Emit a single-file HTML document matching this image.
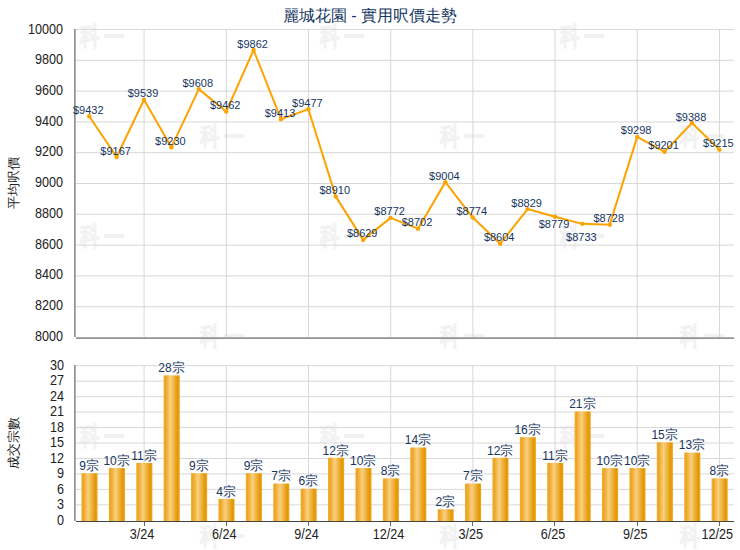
<!DOCTYPE html><html><head><meta charset="utf-8"><style>html,body{margin:0;padding:0;background:#fff;}svg{display:block;}text{font-family:"Liberation Sans",sans-serif;}</style></head><body>
<svg width="740" height="550" viewBox="0 0 740 550">
<defs><linearGradient id="bg" x1="0" x2="1" y1="0" y2="0"><stop offset="0" stop-color="#f4ad2a"/><stop offset="0.12" stop-color="#eea424"/><stop offset="0.42" stop-color="#f9d07f"/><stop offset="0.88" stop-color="#e39600"/><stop offset="1" stop-color="#f2aa28"/></linearGradient></defs>
<rect width="740" height="550" fill="#fff"/>
<text transform="translate(80,44.6) scale(0.76,1)" font-size="26" font-weight="900" fill="#f2f2f2" stroke="#f2f2f2" stroke-width="0.3">科</text>
<text transform="translate(103.6,46.1) scale(0.78,1)" font-size="26" font-weight="900" fill="#f2f2f2" stroke="#f2f2f2" stroke-width="1">一</text>
<text transform="translate(320,44.6) scale(0.76,1)" font-size="26" font-weight="900" fill="#f2f2f2" stroke="#f2f2f2" stroke-width="0.3">科</text>
<text transform="translate(343.6,46.1) scale(0.78,1)" font-size="26" font-weight="900" fill="#f2f2f2" stroke="#f2f2f2" stroke-width="1">一</text>
<text transform="translate(560,44.6) scale(0.76,1)" font-size="26" font-weight="900" fill="#f2f2f2" stroke="#f2f2f2" stroke-width="0.3">科</text>
<text transform="translate(583.6,46.1) scale(0.78,1)" font-size="26" font-weight="900" fill="#f2f2f2" stroke="#f2f2f2" stroke-width="1">一</text>
<text transform="translate(200,144.6) scale(0.76,1)" font-size="26" font-weight="900" fill="#f2f2f2" stroke="#f2f2f2" stroke-width="0.3">科</text>
<text transform="translate(223.6,146.1) scale(0.78,1)" font-size="26" font-weight="900" fill="#f2f2f2" stroke="#f2f2f2" stroke-width="1">一</text>
<text transform="translate(440,144.6) scale(0.76,1)" font-size="26" font-weight="900" fill="#f2f2f2" stroke="#f2f2f2" stroke-width="0.3">科</text>
<text transform="translate(463.6,146.1) scale(0.78,1)" font-size="26" font-weight="900" fill="#f2f2f2" stroke="#f2f2f2" stroke-width="1">一</text>
<text transform="translate(680,144.6) scale(0.76,1)" font-size="26" font-weight="900" fill="#f2f2f2" stroke="#f2f2f2" stroke-width="0.3">科</text>
<text transform="translate(703.6,146.1) scale(0.78,1)" font-size="26" font-weight="900" fill="#f2f2f2" stroke="#f2f2f2" stroke-width="1">一</text>
<text transform="translate(80,244.6) scale(0.76,1)" font-size="26" font-weight="900" fill="#f2f2f2" stroke="#f2f2f2" stroke-width="0.3">科</text>
<text transform="translate(103.6,246.1) scale(0.78,1)" font-size="26" font-weight="900" fill="#f2f2f2" stroke="#f2f2f2" stroke-width="1">一</text>
<text transform="translate(320,244.6) scale(0.76,1)" font-size="26" font-weight="900" fill="#f2f2f2" stroke="#f2f2f2" stroke-width="0.3">科</text>
<text transform="translate(343.6,246.1) scale(0.78,1)" font-size="26" font-weight="900" fill="#f2f2f2" stroke="#f2f2f2" stroke-width="1">一</text>
<text transform="translate(560,244.6) scale(0.76,1)" font-size="26" font-weight="900" fill="#f2f2f2" stroke="#f2f2f2" stroke-width="0.3">科</text>
<text transform="translate(583.6,246.1) scale(0.78,1)" font-size="26" font-weight="900" fill="#f2f2f2" stroke="#f2f2f2" stroke-width="1">一</text>
<text transform="translate(200,344.6) scale(0.76,1)" font-size="26" font-weight="900" fill="#f2f2f2" stroke="#f2f2f2" stroke-width="0.3">科</text>
<text transform="translate(223.6,346.1) scale(0.78,1)" font-size="26" font-weight="900" fill="#f2f2f2" stroke="#f2f2f2" stroke-width="1">一</text>
<text transform="translate(440,344.6) scale(0.76,1)" font-size="26" font-weight="900" fill="#f2f2f2" stroke="#f2f2f2" stroke-width="0.3">科</text>
<text transform="translate(463.6,346.1) scale(0.78,1)" font-size="26" font-weight="900" fill="#f2f2f2" stroke="#f2f2f2" stroke-width="1">一</text>
<text transform="translate(680,344.6) scale(0.76,1)" font-size="26" font-weight="900" fill="#f2f2f2" stroke="#f2f2f2" stroke-width="0.3">科</text>
<text transform="translate(703.6,346.1) scale(0.78,1)" font-size="26" font-weight="900" fill="#f2f2f2" stroke="#f2f2f2" stroke-width="1">一</text>
<text transform="translate(80,444.6) scale(0.76,1)" font-size="26" font-weight="900" fill="#f2f2f2" stroke="#f2f2f2" stroke-width="0.3">科</text>
<text transform="translate(103.6,446.1) scale(0.78,1)" font-size="26" font-weight="900" fill="#f2f2f2" stroke="#f2f2f2" stroke-width="1">一</text>
<text transform="translate(320,444.6) scale(0.76,1)" font-size="26" font-weight="900" fill="#f2f2f2" stroke="#f2f2f2" stroke-width="0.3">科</text>
<text transform="translate(343.6,446.1) scale(0.78,1)" font-size="26" font-weight="900" fill="#f2f2f2" stroke="#f2f2f2" stroke-width="1">一</text>
<text transform="translate(560,444.6) scale(0.76,1)" font-size="26" font-weight="900" fill="#f2f2f2" stroke="#f2f2f2" stroke-width="0.3">科</text>
<text transform="translate(583.6,446.1) scale(0.78,1)" font-size="26" font-weight="900" fill="#f2f2f2" stroke="#f2f2f2" stroke-width="1">一</text>
<text transform="translate(200,544.6) scale(0.76,1)" font-size="26" font-weight="900" fill="#f2f2f2" stroke="#f2f2f2" stroke-width="0.3">科</text>
<text transform="translate(223.6,546.1) scale(0.78,1)" font-size="26" font-weight="900" fill="#f2f2f2" stroke="#f2f2f2" stroke-width="1">一</text>
<text transform="translate(440,544.6) scale(0.76,1)" font-size="26" font-weight="900" fill="#f2f2f2" stroke="#f2f2f2" stroke-width="0.3">科</text>
<text transform="translate(463.6,546.1) scale(0.78,1)" font-size="26" font-weight="900" fill="#f2f2f2" stroke="#f2f2f2" stroke-width="1">一</text>
<text transform="translate(680,544.6) scale(0.76,1)" font-size="26" font-weight="900" fill="#f2f2f2" stroke="#f2f2f2" stroke-width="0.3">科</text>
<text transform="translate(703.6,546.1) scale(0.78,1)" font-size="26" font-weight="900" fill="#f2f2f2" stroke="#f2f2f2" stroke-width="1">一</text>
<text x="370" y="21" font-size="16" fill="#15365f" text-anchor="middle">麗城花園 - 實用呎價走勢</text>
<rect x="76" y="29.00" width="658" height="1" fill="#d8d8d8"/>
<rect x="76" y="59.80" width="658" height="1" fill="#d8d8d8"/>
<rect x="76" y="90.60" width="658" height="1" fill="#d8d8d8"/>
<rect x="76" y="121.40" width="658" height="1" fill="#d8d8d8"/>
<rect x="76" y="152.20" width="658" height="1" fill="#d8d8d8"/>
<rect x="76" y="183.00" width="658" height="1" fill="#d8d8d8"/>
<rect x="76" y="213.80" width="658" height="1" fill="#d8d8d8"/>
<rect x="76" y="244.60" width="658" height="1" fill="#d8d8d8"/>
<rect x="76" y="275.40" width="658" height="1" fill="#d8d8d8"/>
<rect x="76" y="306.20" width="658" height="1" fill="#d8d8d8"/>
<rect x="143.60" y="29" width="1" height="308" fill="#d8d8d8"/>
<rect x="225.80" y="29" width="1" height="308" fill="#d8d8d8"/>
<rect x="307.99" y="29" width="1" height="308" fill="#d8d8d8"/>
<rect x="390.19" y="29" width="1" height="308" fill="#d8d8d8"/>
<rect x="472.38" y="29" width="1" height="308" fill="#d8d8d8"/>
<rect x="554.58" y="29" width="1" height="308" fill="#d8d8d8"/>
<rect x="636.77" y="29" width="1" height="308" fill="#d8d8d8"/>
<rect x="718.96" y="29" width="1" height="308" fill="#d8d8d8"/>
<rect x="74" y="29" width="1" height="308" fill="#939393"/><rect x="75" y="29" width="1" height="308" fill="#afafaf"/>
<rect x="76" y="337" width="658" height="1" fill="#acacac"/><rect x="76" y="338" width="658" height="1" fill="#949494"/>
<text transform="translate(63,33.60) scale(0.9,1)" font-size="14" fill="#222" text-anchor="end">10000</text>
<text transform="translate(63,64.32) scale(0.9,1)" font-size="14" fill="#222" text-anchor="end">9800</text>
<text transform="translate(63,95.04) scale(0.9,1)" font-size="14" fill="#222" text-anchor="end">9600</text>
<text transform="translate(63,125.76) scale(0.9,1)" font-size="14" fill="#222" text-anchor="end">9400</text>
<text transform="translate(63,156.48) scale(0.9,1)" font-size="14" fill="#222" text-anchor="end">9200</text>
<text transform="translate(63,187.20) scale(0.9,1)" font-size="14" fill="#222" text-anchor="end">9000</text>
<text transform="translate(63,217.92) scale(0.9,1)" font-size="14" fill="#222" text-anchor="end">8800</text>
<text transform="translate(63,248.64) scale(0.9,1)" font-size="14" fill="#222" text-anchor="end">8600</text>
<text transform="translate(63,279.36) scale(0.9,1)" font-size="14" fill="#222" text-anchor="end">8400</text>
<text transform="translate(63,310.08) scale(0.9,1)" font-size="14" fill="#222" text-anchor="end">8200</text>
<text transform="translate(63,340.80) scale(0.9,1)" font-size="14" fill="#222" text-anchor="end">8000</text>
<text transform="translate(18.3,183) rotate(-90)" font-size="13" fill="#222" text-anchor="middle">平均呎價</text>
<polyline points="89.21,116.22 116.61,157.03 144.00,99.74 171.40,147.33 198.80,89.12 226.20,111.60 253.60,50.00 281.00,119.15 308.39,109.29 335.79,196.61 363.19,239.88 390.59,217.86 417.99,228.64 445.38,182.13 472.78,217.55 500.18,243.73 527.58,209.08 554.98,216.78 582.37,223.87 609.77,224.64 637.17,136.86 664.57,151.80 691.97,123.00 719.36,149.64" fill="none" stroke="#fca300" stroke-width="2" stroke-linejoin="round"/>
<circle cx="89.21" cy="116.22" r="2.2" fill="#fca300"/>
<circle cx="116.61" cy="157.03" r="2.2" fill="#fca300"/>
<circle cx="144.00" cy="99.74" r="2.2" fill="#fca300"/>
<circle cx="171.40" cy="147.33" r="2.2" fill="#fca300"/>
<circle cx="198.80" cy="89.12" r="2.2" fill="#fca300"/>
<circle cx="226.20" cy="111.60" r="2.2" fill="#fca300"/>
<circle cx="253.60" cy="50.00" r="2.2" fill="#fca300"/>
<circle cx="281.00" cy="119.15" r="2.2" fill="#fca300"/>
<circle cx="308.39" cy="109.29" r="2.2" fill="#fca300"/>
<circle cx="335.79" cy="196.61" r="2.2" fill="#fca300"/>
<circle cx="363.19" cy="239.88" r="2.2" fill="#fca300"/>
<circle cx="390.59" cy="217.86" r="2.2" fill="#fca300"/>
<circle cx="417.99" cy="228.64" r="2.2" fill="#fca300"/>
<circle cx="445.38" cy="182.13" r="2.2" fill="#fca300"/>
<circle cx="472.78" cy="217.55" r="2.2" fill="#fca300"/>
<circle cx="500.18" cy="243.73" r="2.2" fill="#fca300"/>
<circle cx="527.58" cy="209.08" r="2.2" fill="#fca300"/>
<circle cx="554.98" cy="216.78" r="2.2" fill="#fca300"/>
<circle cx="582.37" cy="223.87" r="2.2" fill="#fca300"/>
<circle cx="609.77" cy="224.64" r="2.2" fill="#fca300"/>
<circle cx="637.17" cy="136.86" r="2.2" fill="#fca300"/>
<circle cx="664.57" cy="151.80" r="2.2" fill="#fca300"/>
<circle cx="691.97" cy="123.00" r="2.2" fill="#fca300"/>
<circle cx="719.36" cy="149.64" r="2.2" fill="#fca300"/>
<text x="88.21" y="113.77" font-size="11" fill="#15365f" text-anchor="middle">$9432</text>
<text x="115.61" y="154.58" font-size="11" fill="#15365f" text-anchor="middle">$9167</text>
<text x="143.00" y="97.29" font-size="11" fill="#15365f" text-anchor="middle">$9539</text>
<text x="170.40" y="144.88" font-size="11" fill="#15365f" text-anchor="middle">$9230</text>
<text x="197.80" y="86.67" font-size="11" fill="#15365f" text-anchor="middle">$9608</text>
<text x="225.20" y="109.15" font-size="11" fill="#15365f" text-anchor="middle">$9462</text>
<text x="252.60" y="47.55" font-size="11" fill="#15365f" text-anchor="middle">$9862</text>
<text x="280.00" y="116.70" font-size="11" fill="#15365f" text-anchor="middle">$9413</text>
<text x="307.39" y="106.84" font-size="11" fill="#15365f" text-anchor="middle">$9477</text>
<text x="334.79" y="194.16" font-size="11" fill="#15365f" text-anchor="middle">$8910</text>
<text x="362.19" y="237.43" font-size="11" fill="#15365f" text-anchor="middle">$8629</text>
<text x="389.59" y="215.41" font-size="11" fill="#15365f" text-anchor="middle">$8772</text>
<text x="416.99" y="226.19" font-size="11" fill="#15365f" text-anchor="middle">$8702</text>
<text x="444.38" y="179.68" font-size="11" fill="#15365f" text-anchor="middle">$9004</text>
<text x="471.78" y="215.10" font-size="11" fill="#15365f" text-anchor="middle">$8774</text>
<text x="499.18" y="241.28" font-size="11" fill="#15365f" text-anchor="middle">$8604</text>
<text x="526.58" y="206.63" font-size="11" fill="#15365f" text-anchor="middle">$8829</text>
<text x="553.98" y="228.03" font-size="11" fill="#15365f" text-anchor="middle">$8779</text>
<text x="581.37" y="241.12" font-size="11" fill="#15365f" text-anchor="middle">$8733</text>
<text x="608.77" y="222.19" font-size="11" fill="#15365f" text-anchor="middle">$8728</text>
<text x="636.17" y="134.41" font-size="11" fill="#15365f" text-anchor="middle">$9298</text>
<text x="663.57" y="149.35" font-size="11" fill="#15365f" text-anchor="middle">$9201</text>
<text x="690.97" y="120.55" font-size="11" fill="#15365f" text-anchor="middle">$9388</text>
<text x="718.36" y="147.19" font-size="11" fill="#15365f" text-anchor="middle">$9215</text>
<rect x="76" y="365.21" width="658" height="1" fill="#d8d8d8"/>
<rect x="76" y="380.67" width="658" height="1" fill="#d8d8d8"/>
<rect x="76" y="396.13" width="658" height="1" fill="#d8d8d8"/>
<rect x="76" y="411.59" width="658" height="1" fill="#d8d8d8"/>
<rect x="76" y="427.05" width="658" height="1" fill="#d8d8d8"/>
<rect x="76" y="442.51" width="658" height="1" fill="#d8d8d8"/>
<rect x="76" y="457.96" width="658" height="1" fill="#d8d8d8"/>
<rect x="76" y="473.42" width="658" height="1" fill="#d8d8d8"/>
<rect x="76" y="488.88" width="658" height="1" fill="#d8d8d8"/>
<rect x="76" y="504.34" width="658" height="1" fill="#d8d8d8"/>
<rect x="143.60" y="365" width="1" height="156" fill="#d8d8d8"/>
<rect x="225.80" y="365" width="1" height="156" fill="#d8d8d8"/>
<rect x="307.99" y="365" width="1" height="156" fill="#d8d8d8"/>
<rect x="390.19" y="365" width="1" height="156" fill="#d8d8d8"/>
<rect x="472.38" y="365" width="1" height="156" fill="#d8d8d8"/>
<rect x="554.58" y="365" width="1" height="156" fill="#d8d8d8"/>
<rect x="636.77" y="365" width="1" height="156" fill="#d8d8d8"/>
<rect x="718.96" y="365" width="1" height="156" fill="#d8d8d8"/>
<rect x="74" y="365" width="1" height="156" fill="#939393"/><rect x="75" y="365" width="1" height="156" fill="#afafaf"/>
<text transform="translate(64,369.60) scale(0.9,1)" font-size="14" fill="#222" text-anchor="end">30</text>
<text transform="translate(64,385.10) scale(0.9,1)" font-size="14" fill="#222" text-anchor="end">27</text>
<text transform="translate(64,400.60) scale(0.9,1)" font-size="14" fill="#222" text-anchor="end">24</text>
<text transform="translate(64,416.10) scale(0.9,1)" font-size="14" fill="#222" text-anchor="end">21</text>
<text transform="translate(64,431.60) scale(0.9,1)" font-size="14" fill="#222" text-anchor="end">18</text>
<text transform="translate(64,447.10) scale(0.9,1)" font-size="14" fill="#222" text-anchor="end">15</text>
<text transform="translate(64,462.60) scale(0.9,1)" font-size="14" fill="#222" text-anchor="end">12</text>
<text transform="translate(64,478.10) scale(0.9,1)" font-size="14" fill="#222" text-anchor="end">9</text>
<text transform="translate(64,493.60) scale(0.9,1)" font-size="14" fill="#222" text-anchor="end">6</text>
<text transform="translate(64,509.10) scale(0.9,1)" font-size="14" fill="#222" text-anchor="end">3</text>
<text transform="translate(64,524.60) scale(0.9,1)" font-size="14" fill="#222" text-anchor="end">0</text>
<text transform="translate(18.3,443) rotate(-90)" font-size="13" fill="#222" text-anchor="middle">成交宗數</text>
<rect x="81.46" y="473.22" width="16.1" height="47.78" fill="url(#bg)"/>
<rect x="108.86" y="468.07" width="16.1" height="52.93" fill="url(#bg)"/>
<rect x="136.25" y="462.92" width="16.1" height="58.08" fill="url(#bg)"/>
<rect x="163.65" y="375.32" width="16.1" height="145.68" fill="url(#bg)"/>
<rect x="191.05" y="473.22" width="16.1" height="47.78" fill="url(#bg)"/>
<rect x="218.45" y="498.99" width="16.1" height="22.01" fill="url(#bg)"/>
<rect x="245.85" y="473.22" width="16.1" height="47.78" fill="url(#bg)"/>
<rect x="273.25" y="483.53" width="16.1" height="37.47" fill="url(#bg)"/>
<rect x="300.64" y="488.68" width="16.1" height="32.32" fill="url(#bg)"/>
<rect x="328.04" y="457.76" width="16.1" height="63.24" fill="url(#bg)"/>
<rect x="355.44" y="468.07" width="16.1" height="52.93" fill="url(#bg)"/>
<rect x="382.84" y="478.38" width="16.1" height="42.62" fill="url(#bg)"/>
<rect x="410.24" y="447.46" width="16.1" height="73.54" fill="url(#bg)"/>
<rect x="437.63" y="509.29" width="16.1" height="11.71" fill="url(#bg)"/>
<rect x="465.03" y="483.53" width="16.1" height="37.47" fill="url(#bg)"/>
<rect x="492.43" y="457.76" width="16.1" height="63.24" fill="url(#bg)"/>
<rect x="519.83" y="437.15" width="16.1" height="83.85" fill="url(#bg)"/>
<rect x="547.23" y="462.92" width="16.1" height="58.08" fill="url(#bg)"/>
<rect x="574.62" y="411.39" width="16.1" height="109.61" fill="url(#bg)"/>
<rect x="602.02" y="468.07" width="16.1" height="52.93" fill="url(#bg)"/>
<rect x="629.42" y="468.07" width="16.1" height="52.93" fill="url(#bg)"/>
<rect x="656.82" y="442.31" width="16.1" height="78.69" fill="url(#bg)"/>
<rect x="684.22" y="452.61" width="16.1" height="68.39" fill="url(#bg)"/>
<rect x="711.61" y="478.38" width="16.1" height="42.62" fill="url(#bg)"/>
<rect x="76" y="521" width="658" height="1" fill="#444"/>
<rect x="144" y="522" width="1" height="4" fill="#666"/>
<text transform="translate(142.00,539) scale(0.9,1)" font-size="14" fill="#222" text-anchor="middle">3/24</text>
<rect x="226" y="522" width="1" height="4" fill="#666"/>
<text transform="translate(224.20,539) scale(0.9,1)" font-size="14" fill="#222" text-anchor="middle">6/24</text>
<rect x="308" y="522" width="1" height="4" fill="#666"/>
<text transform="translate(306.39,539) scale(0.9,1)" font-size="14" fill="#222" text-anchor="middle">9/24</text>
<rect x="390" y="522" width="1" height="4" fill="#666"/>
<text transform="translate(388.59,539) scale(0.9,1)" font-size="14" fill="#222" text-anchor="middle">12/24</text>
<rect x="472" y="522" width="1" height="4" fill="#666"/>
<text transform="translate(470.78,539) scale(0.9,1)" font-size="14" fill="#222" text-anchor="middle">3/25</text>
<rect x="554" y="522" width="1" height="4" fill="#666"/>
<text transform="translate(552.98,539) scale(0.9,1)" font-size="14" fill="#222" text-anchor="middle">6/25</text>
<rect x="637" y="522" width="1" height="4" fill="#666"/>
<text transform="translate(635.17,539) scale(0.9,1)" font-size="14" fill="#222" text-anchor="middle">9/25</text>
<rect x="719" y="522" width="1" height="4" fill="#666"/>
<text transform="translate(717.36,539) scale(0.9,1)" font-size="14" fill="#222" text-anchor="middle">12/25</text>
<text x="89.21" y="470.02" font-size="12" fill="#15365f" text-anchor="middle">9<tspan font-size="13">宗</tspan></text>
<text x="116.61" y="464.87" font-size="12" fill="#15365f" text-anchor="middle">10<tspan font-size="13">宗</tspan></text>
<text x="144.00" y="459.72" font-size="12" fill="#15365f" text-anchor="middle">11<tspan font-size="13">宗</tspan></text>
<text x="171.40" y="372.12" font-size="12" fill="#15365f" text-anchor="middle">28<tspan font-size="13">宗</tspan></text>
<text x="198.80" y="470.02" font-size="12" fill="#15365f" text-anchor="middle">9<tspan font-size="13">宗</tspan></text>
<text x="226.20" y="495.79" font-size="12" fill="#15365f" text-anchor="middle">4<tspan font-size="13">宗</tspan></text>
<text x="253.60" y="470.02" font-size="12" fill="#15365f" text-anchor="middle">9<tspan font-size="13">宗</tspan></text>
<text x="281.00" y="480.33" font-size="12" fill="#15365f" text-anchor="middle">7<tspan font-size="13">宗</tspan></text>
<text x="308.39" y="485.48" font-size="12" fill="#15365f" text-anchor="middle">6<tspan font-size="13">宗</tspan></text>
<text x="335.79" y="454.56" font-size="12" fill="#15365f" text-anchor="middle">12<tspan font-size="13">宗</tspan></text>
<text x="363.19" y="464.87" font-size="12" fill="#15365f" text-anchor="middle">10<tspan font-size="13">宗</tspan></text>
<text x="390.59" y="475.18" font-size="12" fill="#15365f" text-anchor="middle">8<tspan font-size="13">宗</tspan></text>
<text x="417.99" y="444.26" font-size="12" fill="#15365f" text-anchor="middle">14<tspan font-size="13">宗</tspan></text>
<text x="445.38" y="506.09" font-size="12" fill="#15365f" text-anchor="middle">2<tspan font-size="13">宗</tspan></text>
<text x="472.78" y="480.33" font-size="12" fill="#15365f" text-anchor="middle">7<tspan font-size="13">宗</tspan></text>
<text x="500.18" y="454.56" font-size="12" fill="#15365f" text-anchor="middle">12<tspan font-size="13">宗</tspan></text>
<text x="527.58" y="433.95" font-size="12" fill="#15365f" text-anchor="middle">16<tspan font-size="13">宗</tspan></text>
<text x="554.98" y="459.72" font-size="12" fill="#15365f" text-anchor="middle">11<tspan font-size="13">宗</tspan></text>
<text x="582.37" y="408.19" font-size="12" fill="#15365f" text-anchor="middle">21<tspan font-size="13">宗</tspan></text>
<text x="609.77" y="464.87" font-size="12" fill="#15365f" text-anchor="middle">10<tspan font-size="13">宗</tspan></text>
<text x="637.17" y="464.87" font-size="12" fill="#15365f" text-anchor="middle">10<tspan font-size="13">宗</tspan></text>
<text x="664.57" y="439.11" font-size="12" fill="#15365f" text-anchor="middle">15<tspan font-size="13">宗</tspan></text>
<text x="691.97" y="449.41" font-size="12" fill="#15365f" text-anchor="middle">13<tspan font-size="13">宗</tspan></text>
<text x="719.36" y="475.18" font-size="12" fill="#15365f" text-anchor="middle">8<tspan font-size="13">宗</tspan></text>
</svg></body></html>
